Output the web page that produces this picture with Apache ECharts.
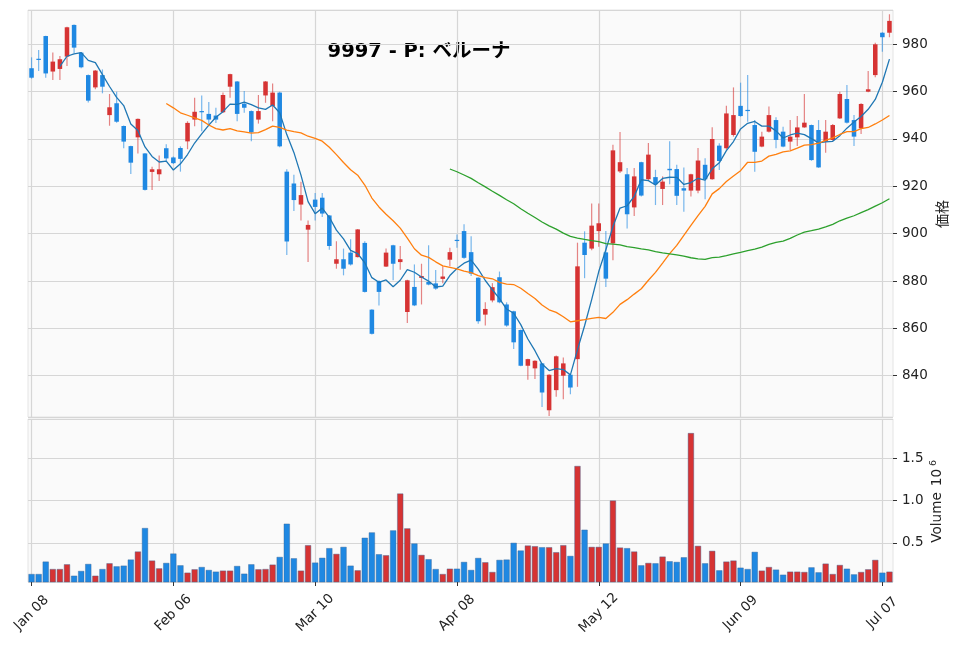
<!DOCTYPE html>
<html>
<head>
<meta charset="utf-8">
<script src="https://cdn.jsdelivr.net/npm/echarts@6/dist/echarts.min.js"></script>
<style>
  html, body { margin: 0; background: #fff; }
  #chart { width: 960px; height: 649px; }
</style>
</head>
<body>
<div id="chart"></div>
<script>
// 9997 ベルーナ 日足（2026-01-08 〜 2026-07-08）
const DATES = [
  '2026-01-08','2026-01-09','2026-01-13','2026-01-14','2026-01-15','2026-01-16','2026-01-19','2026-01-20','2026-01-21','2026-01-22',
  '2026-01-23','2026-01-26','2026-01-27','2026-01-28','2026-01-29','2026-01-30','2026-02-02','2026-02-03','2026-02-04','2026-02-05',
  '2026-02-06','2026-02-09','2026-02-10','2026-02-12','2026-02-13','2026-02-16','2026-02-17','2026-02-18','2026-02-19','2026-02-20',
  '2026-02-24','2026-02-25','2026-02-26','2026-02-27','2026-03-02','2026-03-03','2026-03-04','2026-03-05','2026-03-06','2026-03-09',
  '2026-03-10','2026-03-11','2026-03-12','2026-03-13','2026-03-16','2026-03-17','2026-03-18','2026-03-19','2026-03-23','2026-03-24',
  '2026-03-25','2026-03-26','2026-03-27','2026-03-30','2026-03-31','2026-04-01','2026-04-02','2026-04-03','2026-04-06','2026-04-07',
  '2026-04-08','2026-04-09','2026-04-10','2026-04-13','2026-04-14','2026-04-15','2026-04-16','2026-04-17','2026-04-20','2026-04-21',
  '2026-04-22','2026-04-23','2026-04-24','2026-04-27','2026-04-28','2026-04-30','2026-05-01','2026-05-07','2026-05-08','2026-05-11',
  '2026-05-12','2026-05-13','2026-05-14','2026-05-15','2026-05-18','2026-05-19','2026-05-20','2026-05-21','2026-05-22','2026-05-25',
  '2026-05-26','2026-05-27','2026-05-28','2026-05-29','2026-06-01','2026-06-02','2026-06-03','2026-06-04','2026-06-05','2026-06-08',
  '2026-06-09','2026-06-10','2026-06-11','2026-06-12','2026-06-15','2026-06-16','2026-06-17','2026-06-18','2026-06-19','2026-06-22',
  '2026-06-23','2026-06-24','2026-06-25','2026-06-26','2026-06-29','2026-06-30','2026-07-01','2026-07-02','2026-07-03','2026-07-06',
  '2026-07-07','2026-07-08',
];

const OPEN = [
  969.9,973.9,983.5,968.5,969.6,974.8,988.2,976.5,967.0,961.8,
  967.0,950.1,955.1,945.5,937.0,940.7,933.9,926.1,925.1,936.1,
  932.2,936.2,939.0,948.2,951.8,950.6,949.9,951.3,962.1,964.3,
  954.9,951.8,948.2,958.4,953.9,959.6,926.2,921.2,912.3,901.7,
  914.4,915.2,907.7,887.3,889.2,892.0,890.1,896.1,867.9,880.0,
  886.1,895.1,888.0,866.9,877.5,881.3,879.6,879.0,880.9,889.0,
  897.4,901.1,892.2,881.4,865.8,871.8,881.6,870.1,867.2,859.3,
  844.2,843.1,845.2,825.4,833.9,840.0,840.4,847.0,896.2,893.7,
  901.1,892.1,895.9,926.3,925.1,911.1,930.2,923.0,923.9,918.9,
  927.4,927.3,919.2,918.2,918.2,929.1,923.0,937.2,936.1,941.7,
  954.0,952.3,945.9,936.8,943.1,948.0,943.1,938.9,940.7,944.9,
  945.9,943.8,938.9,939.6,948.7,956.9,948.0,944.5,960.0,967.0,
  984.9,984.9,
];

const CLOSE = [
  965.9,973.5,967.7,972.7,973.7,987.2,978.6,970.3,956.2,968.9,
  962.1,953.4,947.3,938.9,930.0,948.5,918.5,927.2,927.2,931.8,
  929.8,931.6,946.8,951.5,951.3,948.2,948.2,958.6,967.4,950.6,
  953.2,942.8,951.8,964.3,959.6,936.9,896.7,914.2,916.3,903.7,
  911.3,908.5,894.8,889.2,885.2,887.0,901.8,875.4,857.7,875.4,
  892.0,887.3,889.2,880.3,869.7,882.1,878.5,876.8,881.9,892.2,
  897.0,889.8,883.1,863.0,868.2,877.4,871.0,861.2,854.1,844.2,
  847.0,846.3,832.9,840.4,848.2,845.2,835.0,886.2,891.0,903.4,
  904.4,881.0,935.2,930.2,908.2,924.2,916.1,933.4,920.9,922.0,
  926.8,916.0,918.2,925.1,930.9,923.0,940.0,930.7,950.8,950.1,
  949.7,951.8,934.6,941.0,950.1,939.6,936.8,941.0,944.9,946.9,
  931.1,928.0,943.1,945.9,959.0,946.9,941.0,954.8,961.0,980.0,
  983.0,989.9,
];

const LOW = [
  965.5,968.7,965.9,964.9,964.9,970.8,976.2,969.9,955.4,961.0,
  959.3,945.6,946.9,936.1,925.2,933.9,918.2,918.5,922.3,930.4,
  929.4,926.2,935.7,945.4,943.3,945.4,946.8,951.0,957.4,947.5,
  951.1,939.0,946.5,955.3,947.5,936.5,891.0,909.6,905.6,888.0,
  905.6,907.0,893.2,885.2,882.4,886.6,889.9,875.2,857.4,869.7,
  885.9,880.3,884.8,862.3,869.4,870.1,878.2,876.3,879.1,886.2,
  894.1,889.4,882.1,861.9,861.2,871.0,870.6,860.7,851.3,844.0,
  838.3,838.6,826.8,823.0,831.1,830.1,832.2,835.3,881.2,893.0,
  894.5,877.5,888.8,925.6,902.2,907.5,915.7,922.7,912.1,912.1,
  920.9,912.1,909.3,915.7,917.1,914.5,922.8,926.9,935.5,941.0,
  949.4,947.3,926.2,936.5,942.7,936.1,936.5,935.4,937.0,944.7,
  930.8,927.8,934.2,939.3,948.5,946.6,937.0,942.1,959.8,966.1,
  976.9,983.0,
];

const HIGH = [
  974.5,977.6,983.6,976.5,975.1,987.4,988.4,976.8,967.2,969.2,
  969.4,959.0,960.0,945.7,937.2,948.7,934.1,928.3,933.0,937.8,
  932.6,936.9,947.5,957.4,958.4,955.6,953.2,959.6,967.6,964.5,
  960.3,952.0,958.6,964.5,963.4,960.0,927.2,924.9,921.9,905.6,
  917.2,917.2,907.9,896.8,893.7,897.6,902.0,896.8,868.1,880.3,
  893.7,895.3,894.8,880.5,887.0,887.3,895.1,884.7,886.2,894.1,
  899.7,904.0,898.9,881.6,871.0,879.1,884.0,871.0,867.4,859.5,
  847.2,846.5,845.4,840.6,848.5,847.7,840.6,896.2,901.0,912.8,
  912.8,901.1,937.6,943.0,927.7,927.7,930.4,938.3,927.0,924.2,
  939.0,929.1,928.0,925.3,936.2,931.9,945.0,938.2,954.0,961.8,
  963.8,967.0,948.0,943.1,953.7,949.2,945.2,948.0,949.7,959.0,
  946.1,948.0,948.0,946.3,960.0,962.8,950.1,955.1,968.7,980.7,
  985.1,992.7,
];

// 出来高（百万株）
const VOLUME = [
  0.131,0.131,0.278,0.190,0.190,0.246,0.111,0.167,0.250,0.111,
  0.190,0.258,0.222,0.230,0.302,0.397,0.675,0.290,0.198,0.262,
  0.373,0.234,0.147,0.187,0.214,0.179,0.159,0.171,0.171,0.226,
  0.135,0.246,0.187,0.190,0.242,0.333,0.726,0.317,0.171,0.472,
  0.266,0.323,0.437,0.369,0.452,0.230,0.175,0.560,0.623,0.365,
  0.353,0.647,1.083,0.671,0.492,0.357,0.306,0.190,0.131,0.194,
  0.194,0.274,0.179,0.321,0.270,0.155,0.298,0.302,0.500,0.409,
  0.468,0.460,0.448,0.448,0.389,0.472,0.345,1.409,0.655,0.452,
  0.452,0.492,1.000,0.444,0.437,0.397,0.234,0.262,0.258,0.337,
  0.282,0.274,0.329,1.798,0.464,0.258,0.405,0.175,0.278,0.290,
  0.206,0.190,0.393,0.171,0.214,0.183,0.123,0.159,0.159,0.155,
  0.210,0.151,0.254,0.131,0.238,0.194,0.127,0.155,0.187,0.298,
  0.147,0.159,
];

const MA_PERIODS = [5, 20, 60];
const MA_COLORS = ['#1f77b4', '#ff7f0e', '#2ca02c'];
const MONTHS = ['Jan','Feb','Mar','Apr','May','Jun','Jul','Aug','Sep','Oct','Nov','Dec'];

const UP = '#d63333';
const DOWN = '#1f88e2';
const UP_WICK = 'rgba(214,51,51,0.6)';
const DOWN_WICK = 'rgba(31,136,226,0.6)';
const GRID_LINE = '#d6d6d6';
const FONT = "'DejaVu Sans', 'Noto Sans CJK JP', sans-serif";

function movingAverage(values, n) {
  return values.map((_, i) => {
    if (i < n - 1) return '-';
    let s = 0;
    for (let k = i - n + 1; k <= i; k++) s += values[k];
    return +(s / n).toFixed(2);
  });
}

function dateLabel(d) {
  return MONTHS[+d.slice(5, 7) - 1] + ' ' + d.slice(8);
}

const everyTwenty = (idx) => idx % 20 === 0;

function renderCandle(params, api) {
  const i = api.value(0);
  const o = api.value(1), c = api.value(2);
  const top = api.coord([i, Math.max(o, c)]);
  const bot = api.coord([i, Math.min(o, c)]);
  const hi = api.coord([i, api.value(4)]);
  const lo = api.coord([i, api.value(3)]);
  const w = api.size([1, 0])[0] * 0.64;
  const up = c > o;
  return {
    type: 'group',
    children: [
      { type: 'line', shape: { x1: hi[0], y1: hi[1], x2: lo[0], y2: lo[1] },
        style: { stroke: up ? UP_WICK : DOWN_WICK, lineWidth: 1.2 } },
      { type: 'rect', shape: { x: top[0] - w / 2, y: top[1], width: w, height: Math.max(bot[1] - top[1], 1.2) },
        style: { fill: up ? UP : DOWN } },
    ],
  };
}

function xAxisFor(gridIndex, withLabels) {
  return {
    type: 'category', gridIndex, data: DATES, boundaryGap: true,
    axisLine: { show: false },
    axisTick: { show: withLabels, alignWithLabel: true, interval: everyTwenty, length: 4, lineStyle: { color: '#333' } },
    axisLabel: {
      show: withLabels, interval: everyTwenty, rotate: 45, align: 'center', verticalAlign: 'middle', margin: 31,
      formatter: dateLabel, color: '#222', fontSize: 13.5, fontFamily: FONT,
    },
    splitLine: { show: true, interval: everyTwenty, alignWithLabel: true, lineStyle: { color: GRID_LINE, width: 1.2 } },
  };
}

function yAxisFor(gridIndex, min, max, splitNumber, fmt) {
  return {
    type: 'value', gridIndex, position: 'right', min, max, splitNumber, scale: true,
    axisLine: { show: false },
    axisTick: { show: true, length: 4, lineStyle: { color: '#333' } },
    axisLabel: { color: '#222', fontSize: 13.5, fontFamily: FONT, margin: 9, showMinLabel: false, showMaxLabel: false, formatter: fmt },
    splitLine: { show: true, lineStyle: { color: GRID_LINE, width: 1.2 } },
  };
}

const chart = echarts.init(document.getElementById('chart'), null, { renderer: 'canvas' });

const maSeries = MA_PERIODS.map((n, k) => ({
  type: 'line', name: 'MA' + n, xAxisIndex: 0, yAxisIndex: 0, z: 3,
  data: movingAverage(CLOSE, n), showSymbol: false, symbol: 'none', silent: true,
  lineStyle: { color: MA_COLORS[k], width: 1.3 },
}));

chart.setOption({
  animation: false,
  textStyle: { fontFamily: FONT },
  grid: [
    { left: 28, right: 67, top: 10, height: 407, show: true, backgroundColor: '#fafafa', borderColor: '#e4e4e4', borderWidth: 1 },
    { left: 28, right: 67, top: 419, height: 163, show: true, backgroundColor: '#fafafa', borderColor: '#e4e4e4', borderWidth: 1 },
  ],
  xAxis: [xAxisFor(0, false), xAxisFor(1, true)],
  yAxis: [
    yAxisFor(0, 822.55, 994.5, 8, (v) => String(Math.round(v))),
    yAxisFor(1, 0.036, 1.964, 4, (v) => v.toFixed(1)),
  ],
  series: [
    {
      type: 'custom', name: 'price', xAxisIndex: 0, yAxisIndex: 0, z: 2,
      renderItem: renderCandle,
      encode: { x: 0, y: [1, 2, 3, 4] },
      data: DATES.map((d, i) => [i, OPEN[i], CLOSE[i], LOW[i], HIGH[i]]),
    },
    ...maSeries,
    {
      type: 'bar', name: 'volume', xAxisIndex: 1, yAxisIndex: 1, barWidth: '88%',
      data: VOLUME.map((v, i) => ({ value: v, itemStyle: { color: CLOSE[i] > OPEN[i] ? UP : DOWN } })),
      itemStyle: { borderColor: 'rgba(60,100,150,0.7)', borderWidth: 0.6 },
    },
  ],
  graphic: [
    { type: 'text', x: 419, y: 52, style: { text: '9997 - P: ベルーナ', fontSize: 19.5, fontWeight: 'bold', fontFamily: FONT, fill: '#000', align: 'center', verticalAlign: 'middle' } },
    { type: 'text', x: 943, y: 214, rotation: Math.PI / 2, style: { text: '価格', fontSize: 14, fontFamily: FONT, fill: '#222', align: 'center', verticalAlign: 'middle' } },
    { type: 'text', x: 937.5, y: 517.5, rotation: Math.PI / 2, style: { text: 'Volume', fontSize: 13.6, fontFamily: FONT, fill: '#222', align: 'center', verticalAlign: 'middle' } },
    { type: 'text', x: 937.5, y: 477.5, rotation: Math.PI / 2, style: { text: '10', fontSize: 13.6, fontFamily: FONT, fill: '#222', align: 'center', verticalAlign: 'middle' } },
    { type: 'text', x: 933.5, y: 463, rotation: Math.PI / 2, style: { text: '6', fontSize: 9.5, fontFamily: FONT, fill: '#222', align: 'center', verticalAlign: 'middle' } },
  ],
});

window.addEventListener('resize', () => chart.resize());
</script>
</body>
</html>
